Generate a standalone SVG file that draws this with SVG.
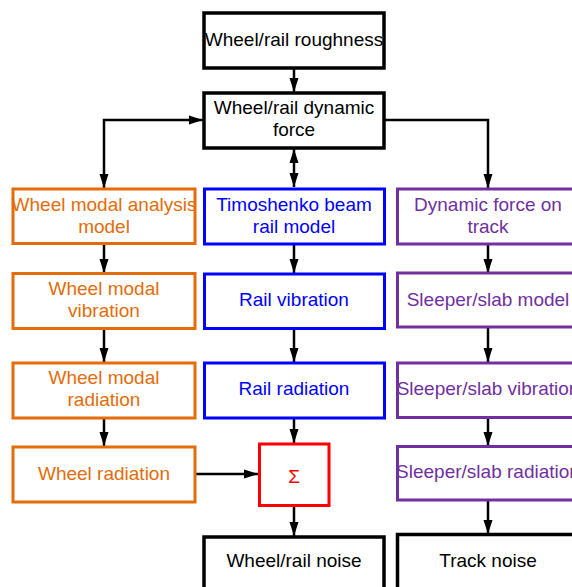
<svg xmlns="http://www.w3.org/2000/svg" width="572" height="587" viewBox="0 0 572 587">
<defs>
<marker id="ah" markerUnits="userSpaceOnUse" markerWidth="14" markerHeight="10" refX="14" refY="5" orient="auto-start-reverse" viewBox="0 0 14 10">
<path d="M0,0.5 L14,5 L0,9.5 z" fill="#000"/>
</marker>
<style>
rect{fill:#fff;stroke-width:3}
.k rect{stroke:#000}
.o rect{stroke:#E46C0A}
.b rect{stroke:#0000FF}
.p rect{stroke:#7030A0}
.r rect{stroke:#FF0000}
text{font-family:"Liberation Sans",Arial,sans-serif;font-size:19px;text-anchor:middle}
.k text{fill:#000}
.o text{fill:#E46C0A}
.b text{fill:#0000FF}
.p text{fill:#7030A0}
.r text{fill:#FF0000}
.c path,.c line{stroke:#000;stroke-width:2.5;fill:none}
</style>
</defs>
<rect x="0" y="0" width="572" height="587" style="fill:#fff;stroke:none"/>
<g class="c" id="connectors">
<line x1="294" y1="68" x2="294" y2="92" marker-end="url(#ah)"/>
<path d="M104,188 L104,120 L203,120" marker-start="url(#ah)" marker-end="url(#ah)"/>
<line x1="294" y1="149" x2="294" y2="187" marker-start="url(#ah)" marker-end="url(#ah)"/>
<path d="M385,120 L488,120 L488,188" marker-end="url(#ah)"/>
<line x1="104" y1="244" x2="104" y2="273" marker-end="url(#ah)"/>
<line x1="104" y1="329" x2="104" y2="362" marker-end="url(#ah)"/>
<line x1="104" y1="418" x2="104" y2="446" marker-end="url(#ah)"/>
<line x1="294" y1="244" x2="294" y2="273" marker-end="url(#ah)"/>
<line x1="294" y1="329" x2="294" y2="362" marker-end="url(#ah)"/>
<line x1="294" y1="418" x2="294" y2="443" marker-end="url(#ah)"/>
<line x1="294" y1="506" x2="294" y2="536" marker-end="url(#ah)"/>
<line x1="196" y1="474" x2="258" y2="474" marker-end="url(#ah)"/>
<line x1="488" y1="244" x2="488" y2="273" marker-end="url(#ah)"/>
<line x1="488" y1="328" x2="488" y2="362" marker-end="url(#ah)"/>
<line x1="488" y1="418" x2="488" y2="446" marker-end="url(#ah)"/>
<line x1="488" y1="501" x2="488" y2="534" marker-end="url(#ah)"/>
</g>
<g id="roughness" class="k"><rect x="204" y="13" width="180" height="55" style="stroke-width:3.5"/><text x="294" y="46">Wheel/rail roughness</text></g>
<g id="dynforce" class="k"><rect x="204" y="93" width="180" height="55" style="stroke-width:3.5"/><text x="294" y="114">Wheel/rail dynamic</text><text x="294" y="136">force</text></g>
<g id="wheelmodel" class="o"><rect x="13" y="189" width="182" height="54.5"/><text x="104" y="211">Wheel modal analysis</text><text x="104" y="233">model</text></g>
<g id="wheelvib" class="o"><rect x="13" y="273.5" width="182" height="55"/><text x="104" y="295">Wheel modal</text><text x="104" y="317">vibration</text></g>
<g id="wheelmodrad" class="o"><rect x="13" y="363" width="182" height="55"/><text x="104" y="383.5">Wheel modal</text><text x="104" y="406">radiation</text></g>
<g id="wheelrad" class="o"><rect x="13" y="447" width="182" height="55"/><text x="104" y="480">Wheel radiation</text></g>
<g id="timoshenko" class="b"><rect x="204.5" y="189" width="180" height="55"/><text x="294" y="211">Timoshenko beam</text><text x="294" y="233">rail model</text></g>
<g id="railvib" class="b"><rect x="204.5" y="274" width="180" height="54.5"/><text x="294" y="306">Rail vibration</text></g>
<g id="railrad" class="b"><rect x="204.5" y="363" width="180" height="55"/><text x="294" y="395">Rail radiation</text></g>
<g id="sum" class="r"><rect x="259.5" y="444" width="69.5" height="61.5"/><text x="294" y="483">Σ</text></g>
<g id="wrnoise" class="k"><rect x="204" y="537" width="180" height="60" style="stroke-width:3.5"/><text x="294" y="567">Wheel/rail noise</text></g>
<g id="trackforce" class="p"><rect x="397.5" y="189" width="182" height="55"/><text x="488" y="211">Dynamic force on</text><text x="488" y="233">track</text></g>
<g id="sleepermodel" class="p"><rect x="397.5" y="273" width="182" height="54"/><text x="488" y="306">Sleeper/slab model</text></g>
<g id="sleepervib" class="p"><rect x="397.5" y="363" width="182" height="54.5"/><text x="488" y="395">Sleeper/slab vibration</text></g>
<g id="sleeperrad" class="p"><rect x="397.5" y="446.5" width="182" height="53.5"/><text x="488" y="478">Sleeper/slab radiation</text></g>
<g id="tracknoise" class="k"><rect x="397.5" y="534.5" width="182" height="60" style="stroke-width:3.5"/><text x="488" y="567">Track noise</text></g>
</svg>
